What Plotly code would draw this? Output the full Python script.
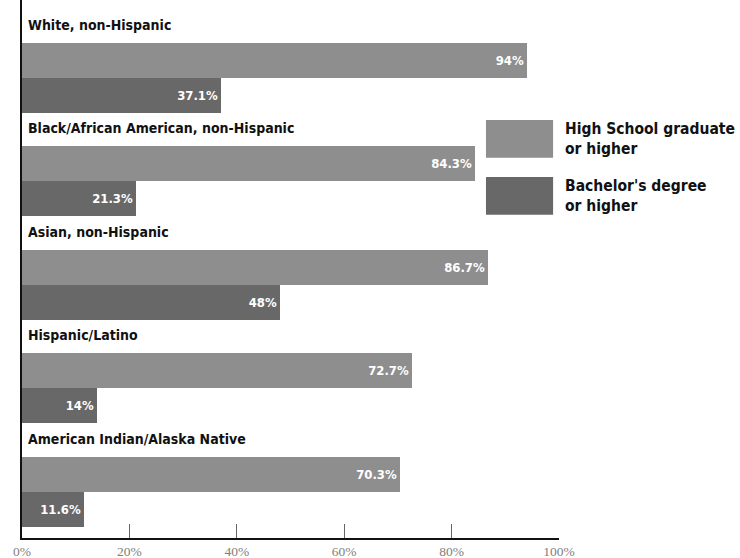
import plotly.graph_objects as go

# Educational attainment by race/ethnicity (percent of adults)
groups = [
    "White, non-Hispanic",
    "Black/African American, non-Hispanic",
    "Asian, non-Hispanic",
    "Hispanic/Latino",
    "American Indian/Alaska Native",
]
high_school = [94, 84.3, 86.7, 72.7, 70.3]
bachelors = [37.1, 21.3, 48, 14, 11.6]
hs_labels = ["94%", "84.3%", "86.7%", "72.7%", "70.3%"]
ba_labels = ["37.1%", "21.3%", "48%", "14%", "11.6%"]
tick_vals = [0, 20, 40, 60, 80, 100]
tick_text = ["0%", "20%", "40%", "60%", "80%", "100%"]
series_names = ["High School graduate<br>or higher", "Bachelor's degree<br>or higher"]

HS_COLOR = "#8e8e8e"
BA_COLOR = "#686868"
BAR_W = 0.338  # each group is one unit tall; two bars stacked inside it
FONT = "DejaVu Sans Condensed, Liberation Sans Narrow, Arial Narrow, sans-serif"

idx = list(range(len(groups)))
hs_pos = [i for i in idx]
ba_pos = [i + BAR_W for i in idx]

fig = go.Figure()
fig.add_trace(go.Bar(
    x=high_school, y=hs_pos, orientation="h", width=BAR_W,
    marker=dict(color=HS_COLOR, line=dict(width=0)),
    text=["<b>%s</b>" % t for t in hs_labels],
    textposition="inside", insidetextanchor="end",
    textfont=dict(color="white", size=13, family=FONT),
    name="High School graduate or higher", showlegend=False,
))
fig.add_trace(go.Bar(
    x=bachelors, y=ba_pos, orientation="h", width=BAR_W,
    marker=dict(color=BA_COLOR, line=dict(width=0)),
    text=["<b>%s</b>" % t for t in ba_labels],
    textposition="inside", insidetextanchor="end",
    textfont=dict(color="white", size=13, family=FONT),
    name="Bachelor's degree or higher", showlegend=False,
))

# Group titles sit just above each pair of bars
for i, g in enumerate(groups):
    fig.add_annotation(
        x=0, y=i - 0.34, xref="x", yref="y", text="<b>%s</b>" % g,
        showarrow=False, xanchor="left", yanchor="middle", xshift=4,
        font=dict(size=14, color="#111", family=FONT),
    )

# Hand-built legend with large swatches
legend_rows = [(HS_COLOR, 0.742, series_names[0]), (BA_COLOR, 0.636, series_names[1])]
for color, yc, label in legend_rows:
    fig.add_shape(
        type="rect", xref="paper", yref="paper",
        x0=0.864, x1=0.989, y0=yc - 0.035, y1=yc + 0.035,
        fillcolor=color, line=dict(width=0),
    )
    fig.add_annotation(
        xref="paper", yref="paper", x=1.007, y=yc, text="<b>%s</b>" % label,
        showarrow=False, xanchor="left", yanchor="middle", align="left",
        font=dict(size=15.5, color="#111", family=FONT),
    )

fig.update_layout(
    width=740, height=558,
    margin=dict(l=22, r=181, t=0, b=20),
    paper_bgcolor="white", plot_bgcolor="white",
    barmode="overlay", bargap=0,
    xaxis=dict(
        range=[0, 100], tickvals=tick_vals, ticktext=tick_text,
        ticks="inside", ticklen=14, tickcolor="#666", tickwidth=1,
        showgrid=False, zeroline=False,
        showline=True, linecolor="#111", linewidth=1.5,
        tickfont=dict(family="Liberation Serif, serif", size=13.5, color="#808080"),
        fixedrange=True,
    ),
    yaxis=dict(
        range=[4.618, -0.58], showticklabels=False, ticks="",
        showgrid=False, zeroline=False,
        showline=True, linecolor="#111", linewidth=1.5,
        fixedrange=True,
    ),
    showlegend=False,
)

fig.write_html("out.html")
